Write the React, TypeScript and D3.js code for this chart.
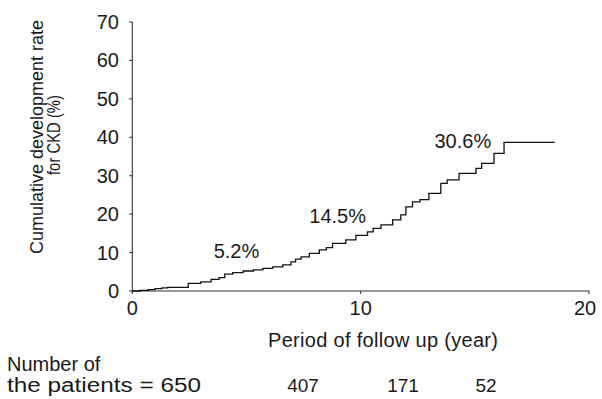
import React from "react";
import * as d3 from "d3";

// Kaplan–Meier style cumulative incidence of CKD (step function)
const stepYears = [0, 0.35, 0.7, 1.0, 1.3, 1.55, 2.45, 3.0, 3.45, 3.8, 4.05, 4.4, 4.85, 5.3, 5.72, 6.15, 6.59, 6.95, 7.15, 7.39, 7.75, 8.19, 8.5, 8.77, 9.35, 9.79, 10.3, 10.55, 10.89, 11.4, 11.76, 11.98, 12.27, 12.6, 12.99, 13.51, 13.79, 14.31, 15.05, 15.3, 15.84, 16.28, 18.5];
const stepRates = [0, 0.15, 0.35, 0.6, 0.8, 0.95, 2.0, 2.4, 3.0, 3.5, 4.4, 4.8, 5.2, 5.5, 5.9, 6.3, 6.8, 7.6, 8.3, 8.9, 9.8, 10.7, 11.3, 12.4, 13.3, 14.5, 15.4, 16.3, 17.2, 18.5, 19.8, 21.9, 23.2, 23.8, 25.4, 28.0, 28.9, 30.6, 31.9, 33.2, 35.8, 38.7, 38.7];

const milestoneYears = [5, 10, 15];
const milestoneRates = [5.2, 14.5, 30.6];

const yTicks = [0, 10, 20, 30, 40, 50, 60, 70];
const xTicks = [0, 10, 20];

const atRiskLabels = ["the patients = 650", "407", "171", "52"];

const W = 602;
const H = 399;
const FONT = "'Liberation Sans', Arial, Helvetica, sans-serif";

export default function App() {
  const x = d3.scaleLinear().domain([0, 20]).range([132.3, 589]);
  const y = d3.scaleLinear().domain([0, 70]).range([291, 22]);

  const pts: [number, number][] = stepYears.map((t, i) => [t, stepRates[i]]);
  const line = d3
    .line<[number, number]>()
    .x((d) => x(d[0]))
    .y((d) => y(d[1]))
    .curve(d3.curveStepAfter);

  const labelOffsets = [
    { dx: -10, dy: -13 },
    { dx: -23, dy: -12 },
    { dx: -12, dy: -25 },
  ];

  const atRiskX = [7, 303, 403, 486];
  const ink = "#1a1a1a";

  return (
    <svg
      width={W}
      height={H}
      style={{ position: "absolute", left: 0, top: 0, background: "#fff" }}
      fontFamily={FONT}
    >
      <rect width={W} height={H} fill="#fff" />

      {/* axes */}
      <line x1={x(0)} x2={x(0)} y1={y(70)} y2={y(0)} stroke="#333" strokeWidth={1.1} />
      <line x1={x(0)} x2={x(20)} y1={y(0)} y2={y(0)} stroke="#333" strokeWidth={1.1} />
      {yTicks.map((t) => (
        <g key={"y" + t}>
          <line x1={x(0) - 3} x2={x(0)} y1={y(t)} y2={y(t)} stroke="#333" strokeWidth={1.1} />
          <text x={119} y={y(t) + 7} textAnchor="end" fontSize={20} fill={ink}>
            {t}
          </text>
        </g>
      ))}
      {xTicks.map((t) => (
        <g key={"x" + t}>
          <line x1={x(t)} x2={x(t)} y1={y(0)} y2={y(0) + 3} stroke="#333" strokeWidth={1.1} />
          <text x={x(t) + (t === 20 ? -4 : 0)} y={315} textAnchor="middle" fontSize={20} fill={ink}>
            {t}
          </text>
        </g>
      ))}

      {/* curve */}
      <path d={line(pts) ?? ""} fill="none" stroke="#111" strokeWidth={1.3} />

      {/* milestone labels */}
      {milestoneYears.map((t, i) => (
        <text
          key={"m" + t}
          x={x(t) + labelOffsets[i].dx}
          y={y(milestoneRates[i]) + labelOffsets[i].dy}
          textAnchor="middle"
          fontSize={20}
          fill={ink}
        >
          {milestoneRates[i].toFixed(1)}%
        </text>
      ))}

      {/* axis titles */}
      <text
        x={268}
        y={347}
        fontSize={20}
        fill={ink}
        textLength={230}
        lengthAdjust="spacing"
      >
        Period of follow up (year)
      </text>
      <g transform="translate(43,137) rotate(-90)">
        <text x={0} y={0} textAnchor="middle" fontSize={18} fill={ink}>
          Cumulative development rate
        </text>
      </g>
      <g transform="translate(60,175) rotate(-90)">
        <text
          x={0}
          y={0}
          fontSize={18}
          fill={ink}
          textLength={80}
          lengthAdjust="spacingAndGlyphs"
        >
          for CKD (%)
        </text>
      </g>

      {/* number at risk */}
      <text x={7} y={371} fontSize={20} fill={ink}>
        Number of
      </text>
      {atRiskLabels.map((s, i) =>
        i === 0 ? (
          <text
            key={"r" + i}
            x={atRiskX[i]}
            y={392}
            fontSize={20}
            fill={ink}
            textLength={194}
            lengthAdjust="spacingAndGlyphs"
          >
            {s}
          </text>
        ) : (
          <text
            key={"r" + i}
            x={atRiskX[i]}
            y={392}
            textAnchor="middle"
            fontSize={19}
            fill={ink}
          >
            {s}
          </text>
        )
      )}
    </svg>
  );
}
